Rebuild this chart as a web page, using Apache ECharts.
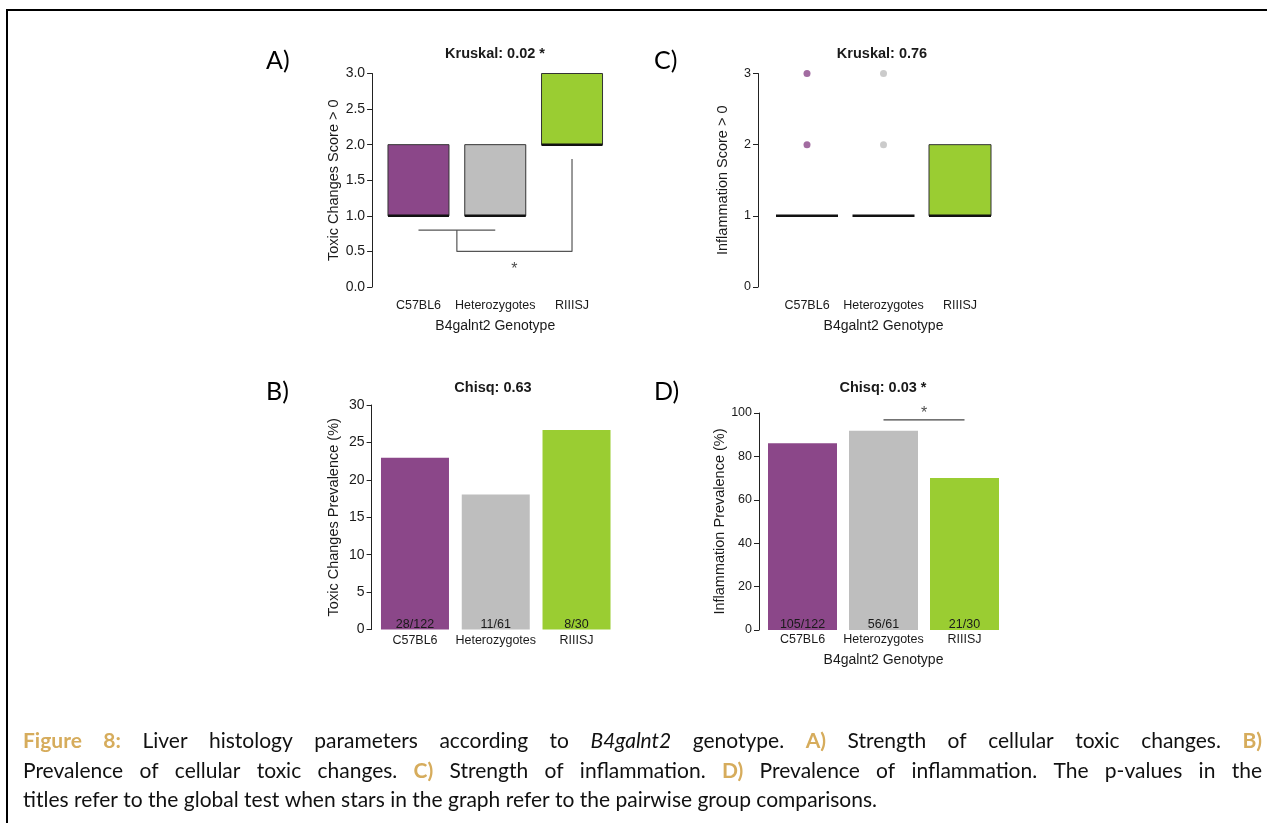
<!DOCTYPE html>
<html><head><meta charset="utf-8">
<script src="https://cdn.jsdelivr.net/npm/echarts@6/dist/echarts.min.js"></script>
<style>html,body{margin:0;padding:0;background:#fff}#c{width:1267px;height:823px}</style>
</head><body><div id="c"></div>
<script>
// ---------- data ----------
const categories = ['C57BL6', 'Heterozygotes', 'RIIISJ'];
const groupColors = ['#8B4789', '#BEBEBE', '#9ACD32'];
// box stats: [min, Q1, median, Q3, max]
const toxScoreBox = [[1, 1, 1, 2, 2], [1, 1, 1, 2, 2], [2, 2, 2, 3, 3]];
const inflScoreBox = [[1, 1, 1, 1, 1], [1, 1, 1, 1, 1], [1, 1, 1, 2, 2]];
const inflOutliers = [[0, 2], [0, 3], [1, 2], [1, 3]];
const toxPrev = [22.95, 18.03, 26.67];
const toxCounts = ['28/122', '11/61', '8/30'];
const inflPrev = [86.07, 91.80, 70.00];
const inflCounts = ['105/122', '56/61', '21/30'];
const ticksA = ['0.0', '0.5', '1.0', '1.5', '2.0', '2.5', '3.0'];
const ticksC = ['0', '1', '2', '3'];
const ticksB = ['0', '5', '10', '15', '20', '25', '30'];
const ticksD = ['0', '20', '40', '60', '80', '100'];
// significance brackets (x in category-index units)
const sigA1 = [[0, 0.8], [1, 0.8]];
const sigA2 = [[0.5, 0.8], [0.5, 0.5], [2, 0.5], [2, 1.8]];
const starA = [[1.25, 0.24]];
const sigD = [[1, 96.8], [2, 96.8]];
const starD = [[1.5, 99.5]];
const titles = ['Kruskal: 0.02 *', 'Kruskal: 0.76', 'Chisq: 0.63', 'Chisq: 0.03 *'];
const panelLetters = ['A)', 'C)', 'B)', 'D)'];
const yNames = ['Toxic Changes Score > 0', 'Inflammation Score > 0', 'Toxic Changes Prevalence (%)', 'Inflammation Prevalence (%)'];
const xName = 'B4galnt2 Genotype';
const captionLines = [
  [['Figure 8:', 'gold'], ['Liver histology parameters according to', ''], ['B4galnt2', 'it'], ['genotype.', ''], ['A)', 'gold'], ['Strength of cellular toxic changes.', ''], ['B)', 'gold']],
  [['Prevalence of cellular toxic changes.', ''], ['C)', 'gold'], ['Strength of inflammation.', ''], ['D)', 'gold'], ['Prevalence of inflammation. The p-values in the', '']],
  [['titles refer to the global test when stars in the graph refer to the pairwise group comparisons.', '']]
];

// ---------- layout ----------
const FONT = '"Liberation Sans", Arial, Helvetica, sans-serif';
const TXT = '#1a1a1a';
const grids = [
  { left: 380.1, top: 73.5, width: 230.3, height: 213.5 },
  { left: 768.75, top: 73.5, width: 229.5, height: 213.5 },
  { left: 374.6, top: 405, width: 242.3, height: 224.5 },
  { left: 762, top: 413, width: 243, height: 217 }
];
const yOffsets = [8, 10.75, 3, 3];
const nameGaps = [29, 28, 30, 29];
const yTickFs = [14, 12.5, 14, 12.5];

function catAxis(gi, margin, withName, gap) {
  const a = {
    gridIndex: gi, type: 'category', data: categories,
    axisLine: { show: false }, axisTick: { show: false }, splitLine: { show: false },
    axisLabel: { interval: 0, margin: margin, fontSize: 12.5, color: TXT, fontFamily: FONT }
  };
  if (withName) {
    a.name = xName; a.nameLocation = 'middle'; a.nameGap = gap;
    a.nameTextStyle = { fontSize: 14, color: TXT, fontFamily: FONT };
  }
  return a;
}
function hiddenX(gi) { return { gridIndex: gi, type: 'value', min: -0.5, max: 2.5, show: false }; }
function valAxis(gi, min, max, interval, ticks) {
  return {
    gridIndex: gi, type: 'value', min: min, max: max, interval: interval, offset: yOffsets[gi],
    axisLine: { show: true, onZero: false, lineStyle: { color: '#222', width: 1 } },
    axisTick: { show: true, length: 5, lineStyle: { color: '#222', width: 1 } },
    splitLine: { show: false },
    axisLabel: { margin: 7, fontSize: yTickFs[gi], color: TXT, fontFamily: FONT,
      formatter: v => ticks[Math.round((v - min) / interval)] },
    name: yNames[gi], nameLocation: 'middle', nameRotate: 90, nameGap: nameGaps[gi],
    nameTextStyle: { fontSize: 14.5, color: TXT, fontFamily: FONT }
  };
}

function boxRenderer(boxW) {
  return function (params, api) {
    const i = api.value(0);
    const lo = api.value(1), q1 = api.value(2), md = api.value(3), q3 = api.value(4), hi = api.value(5);
    const pq1 = api.coord([i, q1]), pq3 = api.coord([i, q3]), pmd = api.coord([i, md]);
    const plo = api.coord([i, lo]), phi = api.coord([i, hi]);
    const cx = pq1[0], h = boxW / 2;
    const ch = [];
    if (q3 > q1) {
      ch.push({ type: 'rect', shape: { x: cx - h, y: pq3[1], width: boxW, height: pq1[1] - pq3[1] },
        style: { fill: groupColors[i], stroke: '#333', lineWidth: 1 } });
    }
    if (hi > q3) {
      ch.push({ type: 'line', shape: { x1: cx, y1: pq3[1], x2: cx, y2: phi[1] }, style: { stroke: '#333', lineDash: [4, 3] } });
      ch.push({ type: 'line', shape: { x1: cx - h / 2, y1: phi[1], x2: cx + h / 2, y2: phi[1] }, style: { stroke: '#333' } });
    }
    if (lo < q1) {
      ch.push({ type: 'line', shape: { x1: cx, y1: pq1[1], x2: cx, y2: plo[1] }, style: { stroke: '#333', lineDash: [4, 3] } });
      ch.push({ type: 'line', shape: { x1: cx - h / 2, y1: plo[1], x2: cx + h / 2, y2: plo[1] }, style: { stroke: '#333' } });
    }
    ch.push({ type: 'line', shape: { x1: cx - h, y1: pmd[1], x2: cx + h, y2: pmd[1] }, style: { stroke: '#111', lineWidth: 2.5 } });
    return { type: 'group', children: ch };
  };
}
function sigLine(xi, yi, data, color) {
  return { type: 'line', xAxisIndex: xi, yAxisIndex: yi, data: data, symbol: 'none', silent: true,
    lineStyle: { color: color, width: 1.2 }, z: 5, animation: false };
}
function star(xi, yi, data) {
  return { type: 'scatter', xAxisIndex: xi, yAxisIndex: yi, data: data, symbolSize: 1, silent: true,
    itemStyle: { color: 'rgba(0,0,0,0)' }, z: 6, animation: false, clip: false,
    label: { show: true, position: 'inside', formatter: '*', fontSize: 16, color: TXT, fontFamily: FONT } };
}
function bars(gi, values, counts, width) {
  return { type: 'bar', xAxisIndex: gi, yAxisIndex: gi, barWidth: width, animation: false,
    data: values.map((v, i) => ({ value: v, itemStyle: { color: groupColors[i] } })),
    label: { show: true, position: 'insideBottom', distance: 0, offset: [0, 1.5], fontSize: 12.5, color: TXT, fontFamily: FONT,
      formatter: p => counts[p.dataIndex] } };
}

// ---------- text graphics ----------
const graphics = [];
graphics.push({ type: 'rect', shape: { x: 7, y: 10, width: 1400, height: 1000 },
  style: { fill: 'none', stroke: '#000', lineWidth: 2 }, silent: true });
const titlePos = [[495, 54], [882, 54], [493, 388], [883, 388]];
titles.forEach((t, i) => graphics.push({ type: 'text', x: titlePos[i][0], y: titlePos[i][1],
  style: { text: t, font: 'bold 14.5px ' + FONT, fill: TXT, align: 'center', verticalAlign: 'middle' } }));
const letterPos = [[266, 61], [654, 61], [266, 392], [654, 392]];
panelLetters.forEach((t, i) => graphics.push({ type: 'text', x: letterPos[i][0], y: letterPos[i][1],
  style: { text: t, font: '25px Lato, "DejaVu Sans", sans-serif', fill: '#000', align: 'left', verticalAlign: 'middle' } }));

// caption (justified lines 1-2)
const CAP_FAM = 'Lato, "DejaVu Sans", sans-serif';
const capX0 = 23, capX1 = 1262, capY = [741, 771, 800];
const ctx = document.createElement('canvas').getContext('2d');
function capFont(style, fs) {
  return (style === 'it' ? 'italic ' : '') + (style === 'gold' ? 'bold ' : '') + fs + 'px ' + CAP_FAM;
}
function lineWords(line) {
  const ws = [];
  line.forEach(seg => seg[0].split(' ').forEach(w => ws.push({ w: w, s: seg[1] })));
  return ws;
}
function measure(words, fs) {
  let sum = 0;
  words.forEach(o => { ctx.font = capFont(o.s, fs); o.width = ctx.measureText(o.w).width; sum += o.width; });
  ctx.font = capFont('', fs);
  return { sum: sum, space: ctx.measureText(' ').width };
}
let capFs = 20;
{
  const w2 = lineWords(captionLines[1]);
  const m = measure(w2, 20);
  const nat = m.sum + m.space * (w2.length - 1);
  capFs = Math.min(21, 20 * (capX1 - capX0) / nat);
}
captionLines.forEach((line, li) => {
  const words = lineWords(line);
  const m = measure(words, capFs);
  const gap = li < 2 ? (capX1 - capX0 - m.sum) / (words.length - 1) : m.space;
  let x = capX0;
  words.forEach(o => {
    graphics.push({ type: 'text', x: x, y: capY[li], silent: true,
      style: { text: o.w, font: capFont(o.s, capFs), fill: o.s === 'gold' ? '#D6AC5C' : '#111',
        align: 'left', verticalAlign: 'middle' } });
    x += o.width + gap;
  });
});

// ---------- chart ----------
const chart = echarts.init(document.getElementById('c'), null, { renderer: 'canvas' });
chart.setOption({
  backgroundColor: '#fff',
  animation: false,
  grid: grids.map(g => Object.assign({ outerBoundsMode: 'none', containLabel: false }, g)),
  xAxis: [
    catAxis(0, 12, true, 32), catAxis(1, 12, true, 32), catAxis(2, 5, false), catAxis(3, 3.5, true, 23),
    hiddenX(0), hiddenX(1), hiddenX(2), hiddenX(3)
  ],
  yAxis: [
    valAxis(0, 0, 3, 0.5, ticksA), valAxis(1, 0, 3, 1, ticksC),
    valAxis(2, 0, 30, 5, ticksB), valAxis(3, 0, 100, 20, ticksD)
  ],
  series: [
    { type: 'custom', xAxisIndex: 0, yAxisIndex: 0, renderItem: boxRenderer(61),
      encode: { x: 0, y: [1, 2, 3, 4, 5] }, data: toxScoreBox.map((b, i) => [i].concat(b)), z: 3 },
    sigLine(4, 0, sigA1, '#555'), sigLine(4, 0, sigA2, '#555'), star(4, 0, starA),
    { type: 'custom', xAxisIndex: 1, yAxisIndex: 1, renderItem: boxRenderer(62),
      encode: { x: 0, y: [1, 2, 3, 4, 5] }, data: inflScoreBox.map((b, i) => [i].concat(b)), z: 3 },
    { type: 'scatter', xAxisIndex: 1, yAxisIndex: 1, symbolSize: 7, data: inflOutliers, z: 4,
      itemStyle: { color: p => groupColors[p.data[0]] } },
    bars(2, toxPrev, toxCounts, 68),
    bars(3, inflPrev, inflCounts, 69),
    sigLine(7, 3, sigD, '#444'), star(7, 3, starD)
  ],
  graphic: graphics
});
</script></body></html>
